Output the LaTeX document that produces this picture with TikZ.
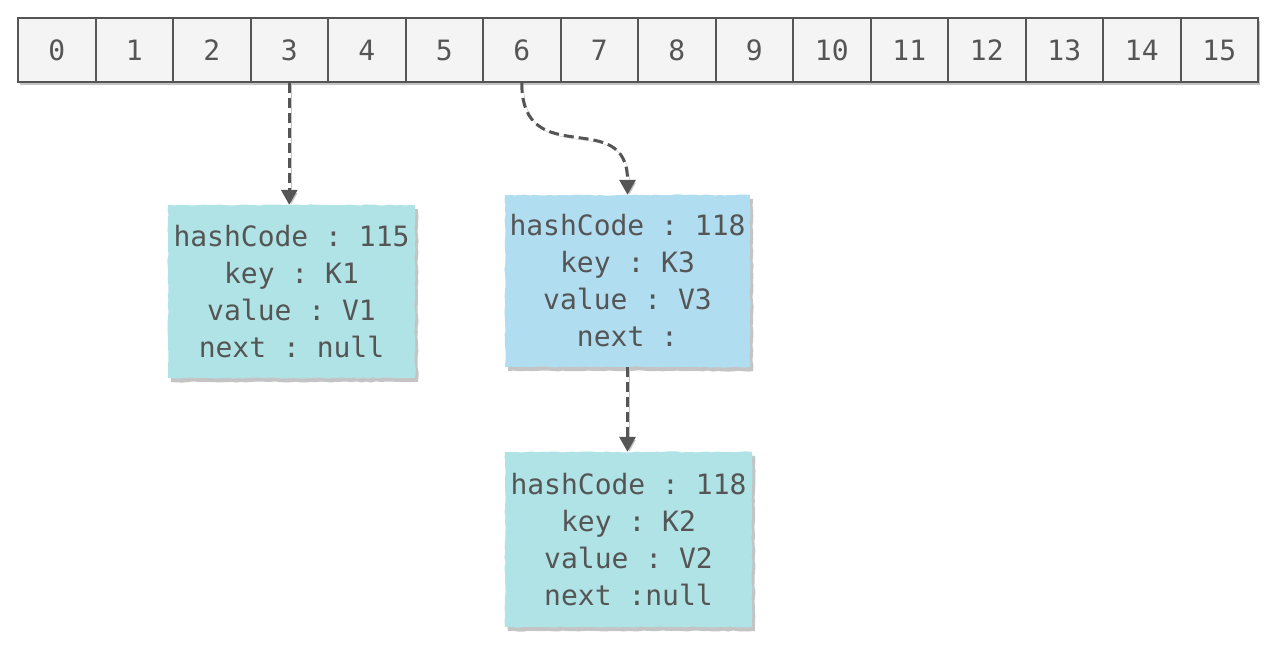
\documentclass[tikz,border=0pt]{standalone}
\usepackage{fontspec}
\setmonofont{DejaVu Sans Mono}
\usetikzlibrary{arrows.meta,shadows,decorations.pathmorphing}
\definecolor{inkgray}{HTML}{555555}
\definecolor{cellfill}{HTML}{F4F4F4}
\definecolor{tealfill}{HTML}{B0E3E6}
\definecolor{bluefill}{HTML}{B1DDF0}
\definecolor{shadowgray}{HTML}{C4C4C4}
\newcommand{\cellfont}{\fontsize{28}{32}\selectfont\ttfamily}
\newcommand{\entryfont}{\fontsize{28}{37}\selectfont\ttfamily}
\tikzset{
    cell/.style={draw=inkgray, line width=2pt, fill=cellfill, text=inkgray,
        minimum width=77.5pt, minimum height=64pt, inner sep=0pt,
        font=\cellfont,
        drop shadow={shadow xshift=1.5pt, shadow yshift=-3pt, fill=shadowgray, opacity=1}},
    entry/.style={fill=#1, text=inkgray, align=center, inner sep=0pt,
        font=\entryfont,
        decorate, decoration={random steps, segment length=5pt, amplitude=0.6pt},
        drop shadow={shadow xshift=3pt, shadow yshift=-4pt, fill=shadowgray, opacity=1}},
    link/.style={draw=inkgray, line width=3pt, dash pattern=on 10pt off 5pt,
        -{Triangle[width=16pt,length=15pt]},
        preaction={draw=shadowgray, transform canvas={xshift=2pt, yshift=-2pt}}}
}
\begin{document}
\begin{tikzpicture}[x=1pt,y=-1pt]
    \useasboundingbox (0,0) rectangle (1284,650);
    % table of buckets
    \foreach \i in {0,...,15}
        \node[cell] (c\i) at ({56.75+77.5*\i},50) {\i};
    % entries
    \node[entry=tealfill, minimum width=247pt, minimum height=173pt] (b1) at (291.5,291.5)
        {hashCode : 115\\key : K1\\value : V1\\next : null};
    \node[entry=bluefill, minimum width=245pt, minimum height=172pt] (b2) at (627.5,281)
        {hashCode : 118\\key : K3\\value : V3\\next :};
    \node[entry=tealfill, minimum width=247pt, minimum height=175pt] (b3) at (628.5,539.5)
        {hashCode : 118\\key : K2\\value : V2\\next :null};
    % links
    \draw[link] (c3.south) -- (c3.south |- b1.north);
    \draw[link] (c6.south) .. controls +(0,90) and +(0,-90) .. (b2.north);
    \draw[link] (b2.south) -- (b2.south |- b3.north);
\end{tikzpicture}
\end{document}
